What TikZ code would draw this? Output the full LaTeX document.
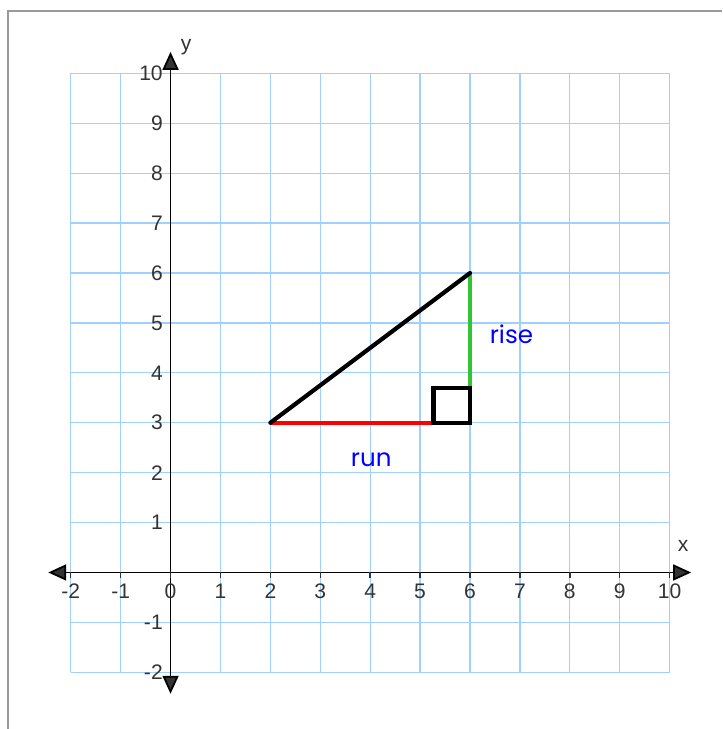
\documentclass[tikz,border=0pt]{standalone}
\usepackage{fontspec}
\setmainfont{Liberation Sans}
\newfontfamily\handfont{Poppins}
\usetikzlibrary{arrows.meta}
\definecolor{gridblue}{HTML}{A0D0FF}
\definecolor{numgray}{HTML}{333333}
\definecolor{risegreen}{HTML}{33C433}
\definecolor{framegray}{HTML}{9A9A9A}

\begin{document}
\begin{tikzpicture}[
  gridline/.style={gridblue,line width=0.7pt},
  axis/.style={{Triangle[length=3.6mm,width=3.2mm,fill=numgray]}-{Triangle[length=3.6mm,width=3.2mm,fill=numgray]},line width=1pt,black},
  num/.style={font=\fontsize{12}{14}\selectfont,text=numgray,inner sep=0pt},
  side/.style={line width=2.4pt,line cap=round},
  word/.style={font=\handfont\fontsize{14}{16}\selectfont,text=blue}]
\useasboundingbox (-3.417,-3.136) rectangle (11.05,11.47);
\draw[framegray,line width=0.8pt] (-3.256,-3.136) -- (-3.256,11.25) -- (11.05,11.25);
% grid
\draw[gridline] (-2,-2) grid (10,10);
% axes
\coordinate (xl) at (-2.45,0);
\coordinate (xr) at (10.43,0);
\coordinate (yb) at (0,-2.43);
\coordinate (yt) at (0,10.43);
\draw[axis] (xl) -- (xr);
\draw[axis] (yb) -- (yt);
\foreach \i in {-2,...,10} {
  \draw[numgray,line width=0.8pt] (\i,0) -- (\i,-0.12);
  \node[num] (xn\i) at (\i,-0.37) {\i};
}
\foreach \i in {-2,-1,1,2,...,10}
  \node[num,anchor=east] (yn\i) at (-0.15,\i) {\i};
\node[num] (xlab) at (10.27,0.53) {x};
\node[num] (ylab) at (0.31,10.52) {y};
% triangle
\coordinate (A) at (2,3);
\coordinate (B) at (6,3);
\coordinate (C) at (6,6);
\draw[side,red,line cap=butt] (A) -- (5.27,3);
\draw[side,risegreen,line cap=butt] (6,3.7) -- (C);
\draw[side] (A) -- (C);
\draw[side,line cap=butt,line join=miter] (5.27,3) rectangle (B |- 0,3.7);
\node[word] (rise) at (6.83,4.77) {rise};
\node[word] (run) at (4.02,2.25) {run};
\end{tikzpicture}
\end{document}
